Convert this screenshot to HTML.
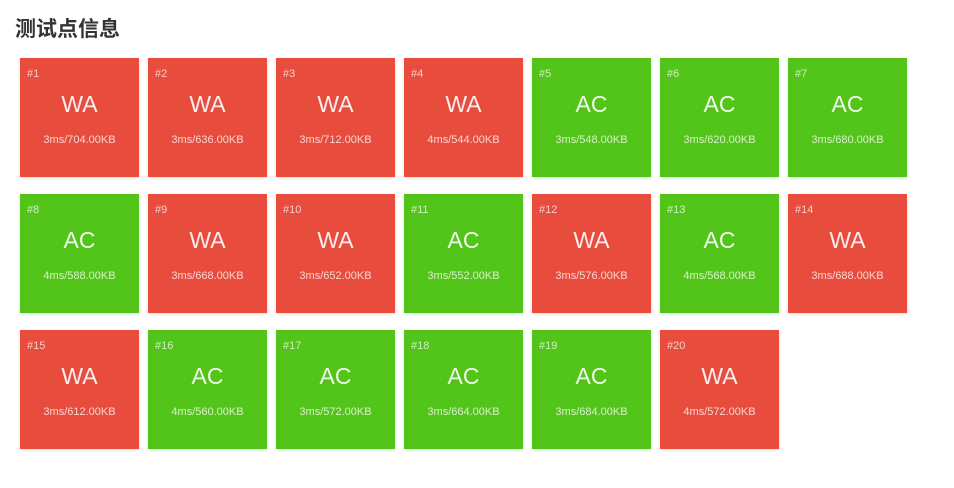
<!DOCTYPE html>
<html><head><meta charset="utf-8"><style>
body{margin:0;width:954px;height:488px;background:#fff;font-family:"Liberation Sans","Noto Sans CJK SC",sans-serif;position:relative;overflow:hidden}
h3{position:absolute;left:15px;top:16px;margin:0;font-size:21px;font-weight:bold;color:#333;line-height:28px}
.box{position:absolute;width:119px;height:119px;color:rgba(255,255,255,0.9);box-shadow:0 1px 3px rgba(0,0,0,0.15)}
.wa{background:#e74c3c}.ac{background:#52c41a}
.id{position:absolute;left:7px;top:10px;font-size:11px;opacity:.8}
.st{position:absolute;left:0;right:0;top:33px;text-align:center;font-size:23px}
.info{position:absolute;left:0;right:0;top:76px;text-align:center;font-size:11px;opacity:.85}
</style></head><body>
<h3>测试点信息</h3>
<div id="grid"></div>
<script>
const statuses=["WA","WA","WA","WA","AC","AC","AC","AC","WA","WA","AC","WA","AC","WA","WA","AC","AC","AC","AC","WA"];
const times=[3,3,3,4,3,3,3,4,3,3,3,3,4,3,3,4,3,3,3,4];
const mems=[704,636,712,544,548,620,680,588,668,652,552,576,568,688,612,560,572,664,684,572];
const g=document.getElementById('grid');
statuses.forEach((s,i)=>{
  const d=document.createElement('div');
  d.className='box '+(s==='WA'?'wa':'ac');
  d.style.left=(20+(i%7)*128)+'px';
  d.style.top=(58+Math.floor(i/7)*136)+'px';
  
  
  d.innerHTML='<div class="id">#'+(i+1)+'</div><div class="st">'+s+'</div><div class="info">'+times[i]+'ms/'+mems[i].toFixed(2)+'KB</div>';
  g.appendChild(d);
});
</script>
</body></html>
